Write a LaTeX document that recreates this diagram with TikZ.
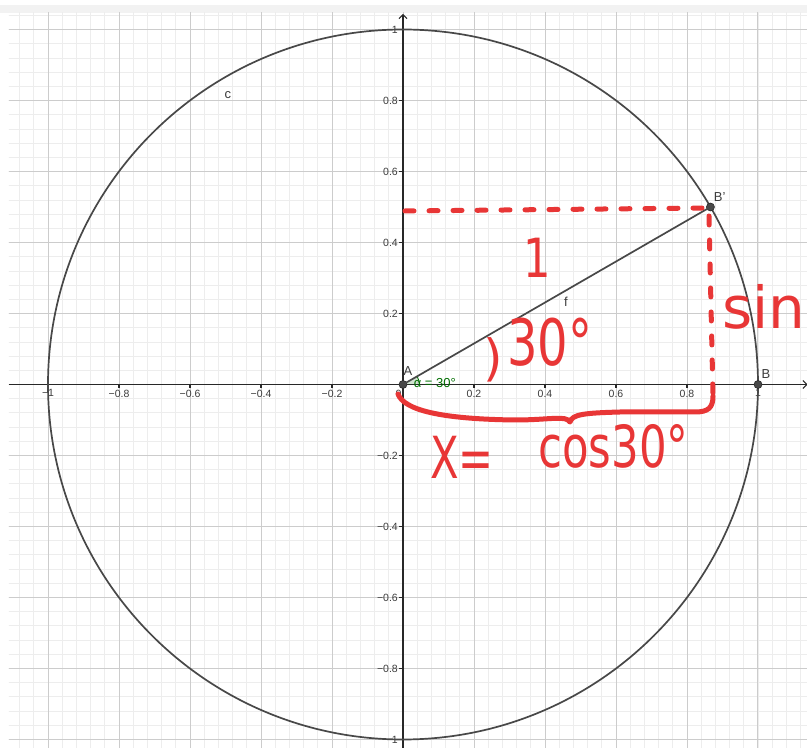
\documentclass[tikz,border=0pt]{standalone}
\usepackage{fontspec}
\setmainfont{Liberation Sans}
\newfontfamily\hand{DejaVu Sans}
\usetikzlibrary{arrows.meta}
\definecolor{hred}{RGB}{232,54,54}
\definecolor{ggdark}{RGB}{72,72,72}
\definecolor{ggaxis}{RGB}{40,40,40}
\definecolor{gglabel}{RGB}{60,60,60}
\definecolor{ggminor}{RGB}{237,237,237}
\definecolor{ggmajor}{RGB}{204,204,204}
\definecolor{gggreen}{RGB}{0,110,0}
\definecolor{ggbar}{RGB}{242,242,242}
\tikzset{
  minorgrid/.style={draw=ggminor, line width=0.8pt},
  majorgrid/.style={draw=ggmajor, line width=1pt},
  axisline/.style={draw=ggaxis, line width=1.1pt},
  ticklab/.style={font=\fontsize{10.5}{10.5}\selectfont, text=gglabel, inner sep=0pt},
  objlab/.style={font=\fontsize{13}{13}\selectfont, text=gglabel, inner sep=0pt},
  ptdot/.style={circle, fill=ggdark, draw=ggaxis, line width=0.6pt, minimum size=8pt, inner sep=0pt},
  circ/.style={draw=ggdark, line width=1.7pt},
  seg/.style={draw=ggdark, line width=1.7pt},
  redline/.style={draw=hred, line width=5pt, line cap=round, line join=round},
  reddash/.style={redline, dash pattern=on 9pt off 15pt},
  redtext/.style={text=hred, inner sep=0pt},
}
\begin{document}
\begin{tikzpicture}[x=1pt,y=1pt]
\useasboundingbox (0,0) rectangle (807,748);
\fill[white] (0,0) rectangle (807,748);
\fill[ggbar] (0,735) rectangle (807,743);
% ---------- GeoGebra graphics view in math units ----------
\begin{scope}[shift={(403,363.5)},x=355pt,y=355pt]
  \begin{scope}
    \clip (-1.1099,-1.024) rectangle (1.138,1.0465);
    \draw[minorgrid, step=0.04] (-1.2,-1.2) grid (1.2,1.2);
    \draw[majorgrid, step=0.2] (-1.2,-1.2) grid (1.2,1.2);
    \draw[axisline, -{Straight Barb[length=4pt,width=8pt]}] (-1.1099,0) -- (1.14,0);
    \draw[axisline, -{Straight Barb[length=4pt,width=8pt]}] (0,-1.024) -- (0,1.044);
  \end{scope}
  % ticks and tick labels
  \foreach \v/\t in {-1/−1,-0.8/−0.8,-0.6/−0.6,-0.4/−0.4,-0.2/−0.2,0.2/0.2,0.4/0.4,0.6/0.6,0.8/0.8,1/1}{
    \draw[axisline] (\v,0) -- ++(0,-4pt);
    \node[ticklab, anchor=north] at ([yshift=-5pt]\v,0) {\t};
    \draw[axisline] (0,\v) -- ++(-4pt,0);
    \node[ticklab, anchor=east] at ([xshift=-5pt]0,\v) {\t};
  }
  \node[ticklab, anchor=north east] (zero) at (-0.004,-0.014) {0};
  % circle c
  \draw[circ] (0,0) circle (1);
  \node[objlab] (lc) at (-0.493,0.8155) {c};
  % angle sector
  \fill[gggreen, opacity=0.18] (0,0) -- (0.046,0) arc (0:30:0.046) -- cycle;
  \draw[gggreen, line width=0.8pt] (0.046,0) arc (0:30:0.046);
  % points
  \node[ptdot] (A) at (0,0) {};
  \node[ptdot] (B) at (1,0) {};
  \node[ptdot] (Bp) at ({cos(30)},{sin(30)}) {};
  \draw[seg] (A.center) -- (Bp.center);
  \node[objlab] (lA) at (0.014,0.039) {A};
  \node[objlab] (lB) at (1.0225,0.0296) {B};
  \node[objlab] (lBp) at (0.892,0.528) {B'};
  \node[objlab] (lf) at (0.459,0.232) {f};
  \node[text=gggreen, inner sep=0pt, anchor=base west, font=\fontsize{13}{13}\selectfont] (alpha) at (0.03,-0.008) {α = 30°};
\end{scope}
% ---------- red handwriting in pixel units (y downward) ----------
\begin{scope}[shift={(0,748)},y=-1pt]
  \clip (0,0) rectangle (807,748);
  \coordinate (h1) at (405,211);
  \coordinate (h2) at (703,208);
  \coordinate (v1) at (709,216);
  \coordinate (v2) at (713,396);
  \draw[reddash] (h1) -- (h2);
  \draw[reddash] (v1) -- (v2);
  \coordinate (b0) at (398,394);
  \coordinate (bm) at (570,422);
  \coordinate (b1) at (713,396);
  \draw[redline] (b0) .. controls (404,410) and (440,419) .. (515,420)
     .. controls (550,420) and (566,415) .. (bm)
     .. controls (572,414) and (586,413) .. (620,412) -- (695,412)
     .. controls (708,412) and (713,408) .. (b1);
  \node[redtext, anchor=base] (one) at (537,278) {\hand\fontsize{54}{54}\selectfont\scalebox{0.8}[1]{1}};
  \node[redtext, anchor=center] (par) at (493,360) {\hand\fontsize{50}{50}\selectfont )};
  \node[redtext, anchor=base west] (thirty) at (507,366) {\hand\fontsize{64}{64}\selectfont\scalebox{0.75}[1]{30°}};
  \node[redtext, anchor=base west] (xeq) at (430,479) {\hand\fontsize{58}{58}\selectfont\scalebox{0.72}[1]{X=}};
  \node[redtext, anchor=base west] (cos) at (538,468) {\hand\fontsize{58}{58}\selectfont\scalebox{0.75}[1]{cos30°}};
  \node[redtext, anchor=base west] (sin) at (722,329) {\hand\fontsize{58}{58}\selectfont sin};
\end{scope}
\end{tikzpicture}
\end{document}
